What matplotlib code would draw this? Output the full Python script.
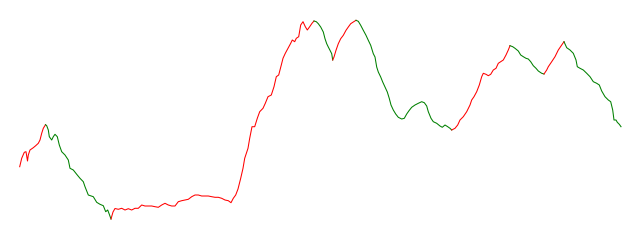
import matplotlib
matplotlib.use("Agg")
import matplotlib.pyplot as plt
import numpy as np

# time axis (sample positions) and series values
day = [
    19.7, 21.7, 24.3, 26.0, 27.5, 28.3, 30.0, 33.3, 35.7, 38.3, 40.0, 41.7, 43.3, 45.5,
    46.7, 48.3, 49.3, 51.7, 53.3, 55.0, 57.3, 59.3, 61.7, 65.0, 68.3, 70.0, 73.3, 76.7,
    80.0, 83.3, 85.0, 88.3, 93.3, 96.7, 100.0, 103.3, 105.7, 107.7, 109.3, 111.0,
    113.0, 115.0, 118.3, 121.7, 125.0, 128.3, 131.7, 135.0, 138.3, 141.7, 145.0, 148.3,
    151.7, 155.0, 158.3, 161.7, 165.0, 168.3, 171.7, 175.0, 178.3, 181.7, 185.0, 188.3,
    191.7, 195.0, 198.3, 201.7, 205.0, 208.3, 211.7, 215.0, 218.3, 221.7, 225.0, 228.3,
    231.0, 233.3, 235.7, 238.0, 240.7, 243.0, 244.7, 248.0, 249.7, 252.0, 254.7, 257.3,
    259.7, 263.0, 265.3, 268.0, 271.3, 274.0, 276.3, 278.7, 281.3, 283.0, 285.3, 288.0,
    290.7, 292.3, 294.7, 296.3, 298.7, 300.7, 303.0, 305.3, 307.3, 309.7, 312.0, 314.0,
    316.3, 318.3, 320.7, 323.3, 325.0, 326.7, 328.3, 330.0, 331.7, 332.7,
    334.0, 336.0, 338.3, 340.7, 343.3, 346.0, 348.3, 350.7, 353.3, 356.0,
    358.3, 360.7, 363.3, 366.0, 368.3, 370.7, 373.3, 375.0, 376.7, 378.3, 380.7, 382.7,
    385.0, 387.3, 389.3, 391.0, 393.3, 395.7, 398.3, 401.7, 404.3, 406.7, 409.0, 411.7,
    415.0, 418.3, 421.7, 424.3, 426.7, 428.3, 431.0, 433.3, 436.7, 440.0, 442.3, 445.0,
    447.7, 450.0, 451.7,
    455.0, 457.7, 460.0, 463.3, 466.7, 470.0, 471.7, 474.0, 476.7, 479.3, 481.7, 483.3,
    486.0, 488.3, 490.7, 493.3, 496.0, 498.3, 500.7, 503.3, 506.0, 508.3, 510.0,
    512.7, 515.0, 518.3, 520.7, 523.3, 526.0, 528.3, 530.7, 533.3, 536.0, 538.3, 541.7, 544.0,
    546.7, 548.3, 551.7, 555.0, 558.3, 561.7, 564.0,
    566.7, 570.0, 573.3, 576.0, 577.3, 580.0, 583.3, 586.7, 590.0, 593.3, 596.7, 599.3,
    601.7, 605.0, 608.3, 610.7, 612.7, 614.0, 616.0, 617.3, 619.3, 621.0,
]

price_drop = [
    166.7, 158.3, 152.3, 151.7, 161.0, 155.0, 150.0, 147.7, 145.7, 143.3, 140.0, 133.3, 128.3, 124.7,
    125.7, 130.0, 136.7, 140.0, 136.7, 134.3, 136.7, 145.0, 151.7, 155.0, 160.0, 168.3, 170.0, 174.3,
    178.3, 181.7, 186.7, 195.0, 196.7, 202.3, 204.3, 205.7, 211.7, 210.0, 214.3, 219.0,
    212.0, 208.5, 209.3, 208.3, 210.0, 208.7, 210.0, 208.3, 208.3, 205.0, 206.0, 206.0,
    206.0, 206.7, 207.3, 205.0, 203.3, 205.0, 206.0, 206.0, 201.7, 200.7, 200.0, 199.3,
    196.7, 195.0, 195.0, 196.0, 196.0, 196.0, 196.7, 197.3, 197.3, 198.3, 200.0, 200.7,
    202.7, 198.3, 195.0, 189.0, 178.3, 168.3, 158.3, 148.3, 138.3, 126.7, 126.7, 118.3,
    111.7, 108.3, 103.3, 96.7, 95.0, 86.7, 76.7, 75.0, 65.0, 58.3, 53.3, 48.3,
    43.3, 40.0, 41.7, 38.3, 36.7, 25.0, 21.7, 26.7, 30.0, 26.7, 23.3, 21.0,
    21.7, 23.7, 27.0, 32.0, 38.7, 43.7, 47.0, 50.3, 53.7, 60.0,
    57.0, 50.3, 43.7, 38.7, 35.3, 30.3, 27.0, 23.7, 22.0, 20.3,
    21.3, 25.3, 30.3, 35.3, 40.3, 45.3, 53.7, 57.0, 67.0, 72.0, 77.0, 82.0,
    87.0, 92.0, 98.5, 105.0, 110.0, 114.0, 117.3, 119.0, 118.3, 114.0, 110.7, 107.3,
    105.0, 103.3, 101.7, 102.7, 106.0, 111.7, 118.3, 121.7, 123.3, 126.0, 127.3, 125.0,
    126.7, 128.3, 130.0,
    128.3, 125.0, 120.0, 116.7, 111.7, 105.0, 100.0, 96.7, 91.7, 85.0, 76.7, 73.3,
    74.3, 75.7, 74.3, 70.0, 68.3, 63.3, 61.7, 60.0, 55.0, 50.0, 45.7,
    46.7, 48.3, 51.0, 55.0, 56.7, 58.3, 59.0, 61.7, 65.7, 68.3, 71.0, 73.3, 74.0,
    70.0, 66.7, 61.7, 56.7, 50.0, 45.0, 41.7,
    47.7, 50.0, 53.3, 60.0, 66.7, 68.3, 70.0, 73.3, 76.7, 81.7, 83.3, 85.0,
    91.0, 96.7, 100.0, 101.7, 110.0, 120.0, 120.0, 122.3, 124.3, 126.7,
]
price = [240.0 - v for v in price_drop]

# swing turning points and the colour of each leg (red = up leg, green = down leg)
turning_days = [45.5, 111.0, 314.0, 332.7, 356.0, 451.7, 510.0, 544.0, 564.0]
segment_colors = ["red", "green", "red", "green", "red", "green",
                  "red", "green", "red", "green"]

fig = plt.figure(figsize=(6.4, 2.4), dpi=100)
ax = fig.add_axes([0, 0, 1, 1])
ax.set_xlim(0, 640)
ax.set_ylim(0, 240)
ax.axis("off")

x = np.array(day)
y = np.array(price)
bounds = [0] + [int(np.argmin(np.abs(x - t))) for t in turning_days] + [len(x) - 1]
for i, col in enumerate(segment_colors):
    a, b = bounds[i], bounds[i + 1]
    ax.plot(x[a:b + 1], y[a:b + 1], color=col, lw=0.75, solid_joinstyle="round")

fig.savefig("out.png", dpi=100)
